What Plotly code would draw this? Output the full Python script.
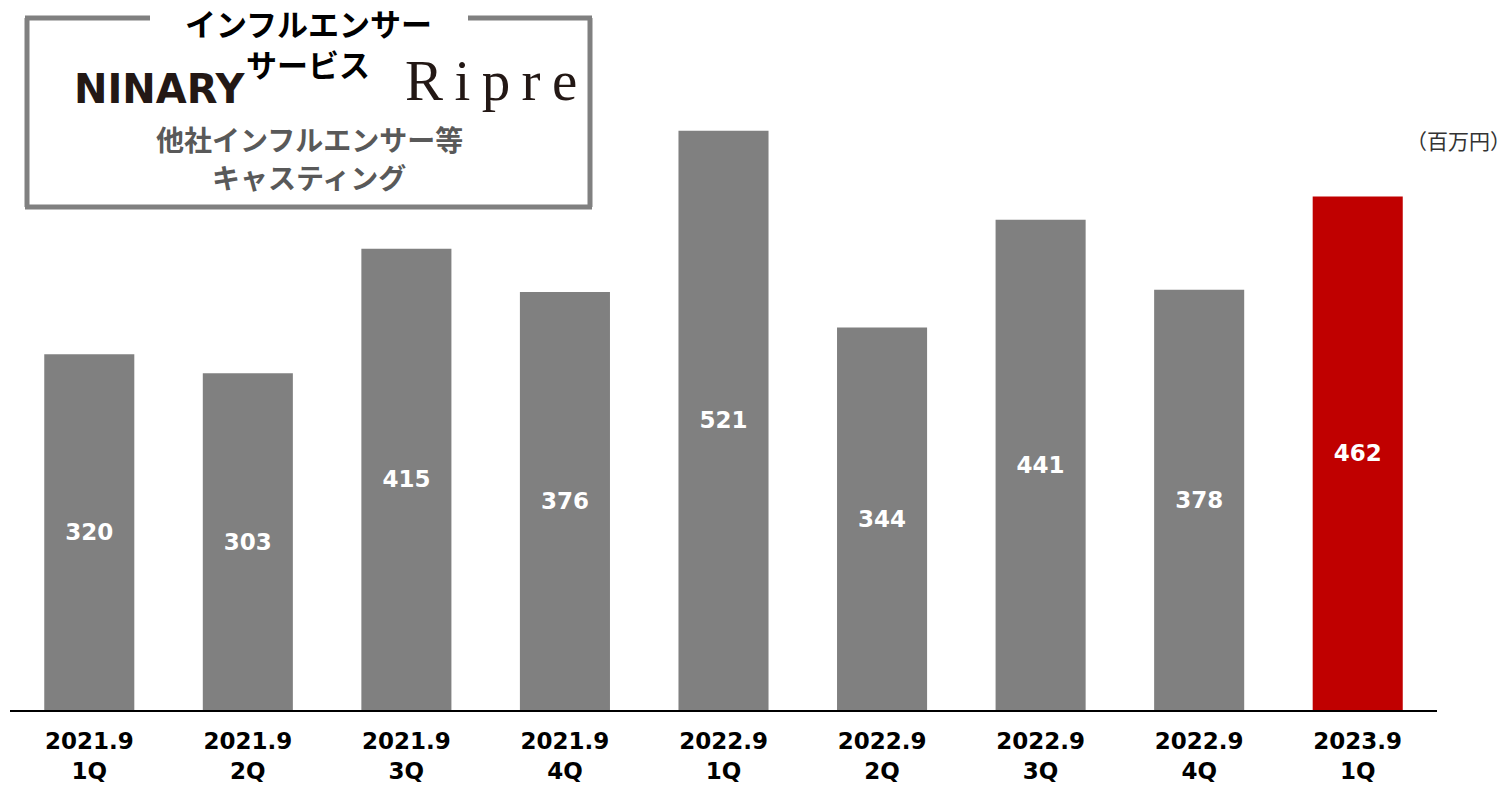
import plotly.graph_objects as go

periods = ["2021.9<br>1Q", "2021.9<br>2Q", "2021.9<br>3Q", "2021.9<br>4Q",
           "2022.9<br>1Q", "2022.9<br>2Q", "2022.9<br>3Q", "2022.9<br>4Q",
           "2023.9<br>1Q"]
sales = [320, 303, 415, 376, 521, 344, 441, 378, 462]
bar_colors = ["#808080"] * 8 + ["#C00000"]

W, H = 1511, 786
L, R, T, B = 10, 74, 100, 76
PW, PH = W - L - R, H - T - B

def px(x):
    return (x - L) / PW

def py(y):
    return (H - B - y) / PH

FONT = "DejaVu Sans, Noto Sans CJK JP, sans-serif"
JFONT = "Noto Sans CJK JP, sans-serif"

fig = go.Figure()
fig.add_trace(go.Bar(
    x=periods, y=sales,
    marker=dict(color=bar_colors, line=dict(width=0)),
    text=[f"<b>{v}</b>" for v in sales],
    textposition="inside", insidetextanchor="middle",
    textfont=dict(color="white", size=23, family=FONT),
    cliponaxis=False,
))

shapes = []
gray = "#808080"
lw = 5
box = dict(x0=27, x1=590, y0=18, y1=207)

def seg(x0, y0, x1, y1):
    return dict(type="line", xref="paper", yref="paper",
                x0=px(x0), y0=py(y0), x1=px(x1), y1=py(y1),
                line=dict(color=gray, width=lw))

shapes.append(seg(box["x0"] - 2, box["y0"], 150, box["y0"]))
shapes.append(seg(468, box["y0"], box["x1"] + 2, box["y0"]))
shapes.append(seg(box["x0"], box["y0"], box["x0"], box["y1"]))
shapes.append(seg(box["x1"], box["y0"], box["x1"], box["y1"]))
shapes.append(seg(box["x0"] - 2, box["y1"], box["x1"] + 2, box["y1"]))

def note(text, x, y, size, color, family):
    return dict(text=text, x=px(x), y=py(y), xref="paper", yref="paper",
                showarrow=False, xanchor="center", yanchor="middle",
                font=dict(size=size, color=color, family=family))

annotations = [
    note("<b>インフルエンサー</b>", 308, 22, 31, "black", JFONT),
    note("<b>サービス</b>", 308, 63, 31, "black", JFONT),
    note("<b>NINARY</b>", 159, 89, 40, "#231815", "DejaVu Sans, sans-serif"),
    note("R\u2009i\u2009p\u2009r\u2009e", 491, 81, 57, "#231815", "Liberation Serif, serif"),
    note("<b>他社インフルエンサー等</b>", 309, 139, 28, "#595959", JFONT),
    note("<b>キャスティング</b>", 309, 177, 28, "#595959", JFONT),
    note("（百万円）", 1459, 140, 21, "#333333", JFONT),
]

fig.update_layout(
    width=W, height=H,
    margin=dict(l=L, r=R, t=T, b=B, pad=0, autoexpand=False),
    plot_bgcolor="white", paper_bgcolor="white",
    bargap=0.432,
    showlegend=False,
    shapes=shapes,
    annotations=annotations,
    xaxis=dict(showline=True, linecolor="black", linewidth=2,
               ticks="outside", ticklen=9, tickcolor="rgba(0,0,0,0)",
               tickfont=dict(size=23, color="black", family=FONT),
               tickprefix="<b>", ticksuffix="</b>", automargin=False,
               showgrid=False, zeroline=False, fixedrange=True),
    yaxis=dict(range=[0, 548.7], visible=False, showgrid=False, automargin=False,
               zeroline=False, fixedrange=True),
    font=dict(family=FONT),
)

fig.write_html("out.html",
               config={"displayModeBar": False},
               post_script="document.body.style.margin='0';document.body.style.overflow='hidden';")
